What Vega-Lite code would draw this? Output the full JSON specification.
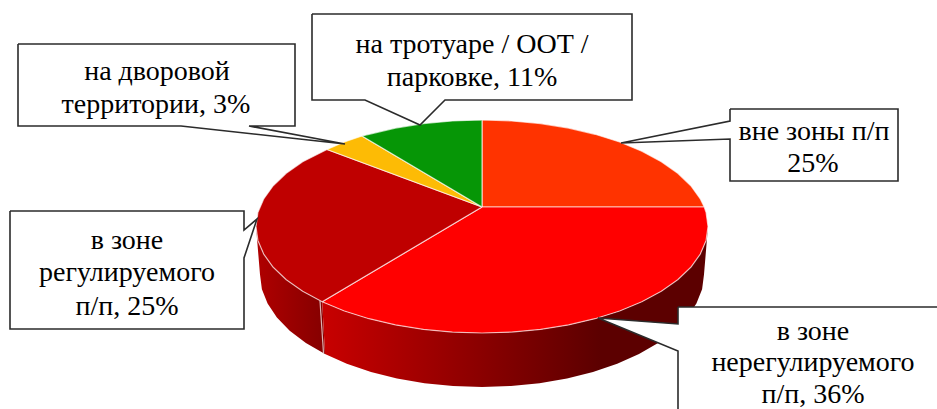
{"$schema":"https://vega.github.io/schema/vega-lite/v6.json","width":937,"height":409,"padding":0,"autosize":{"type":"fit","contains":"padding"},"background":"white","view":{"stroke":null},
"datasets":{
"wallL":[[322.2,301.8],[302.7,291.3],[286.3,279.8],[273.2,267.3],[263.7,254.1],[257.9,240.4],[256,226.5],[260,274.5],[261.9,289.2],[267.6,303.6],[276.9,317.6],[289.7,330.8],[305.9,343],[325,354],[322.2,301.8]],
"wallR":[[322.2,301.8],[344.4,311],[369,318.7],[395.5,324.9],[423.5,329.4],[452.5,332.1],[482,333],[511.5,332.1],[540.5,329.4],[568.5,324.9],[595,318.7],[619.6,311],[641.8,301.8],[661.3,291.3],[677.7,279.8],[690.8,267.3],[700.3,254.1],[706.1,240.4],[708,226.5],[704,274.5],[702.1,289.2],[696.4,303.6],[687.1,317.6],[674.3,330.8],[658.1,343],[639,354],[617.2,363.8],[593,371.9],[567,378.4],[539.5,383.2],[511,386],[482,387],[453,386],[424.5,383.2],[397,378.4],[371,371.9],[346.8,363.8],[325,354],[322.2,301.8]],
"seam":[[320,301],[323.5,353]],
"slices":[
{"s":"вне зоны п/п","p":[[482,207],[482,120],[511.5,120.9],[540.5,123.6],[568.5,128.1],[595,134.3],[619.6,142],[641.8,151.2],[661.3,161.7],[677.7,173.2],[690.8,185.7],[700.3,198.9],[704.2,207],[482,207]]},
{"s":"в зоне нерегулируемого п/п","p":[[482,207],[704.2,207],[706.1,212.6],[708,226.5],[706.1,240.4],[700.3,254.1],[690.8,267.3],[677.7,279.8],[661.3,291.3],[641.8,301.8],[619.6,311],[595,318.7],[568.5,324.9],[540.5,329.4],[511.5,332.1],[482,333],[452.5,332.1],[423.5,329.4],[395.5,324.9],[369,318.7],[344.4,311],[322.2,301.8],[482,207]]},
{"s":"в зоне регулируемого п/п","p":[[482,207],[322.2,301.8],[302.7,291.3],[286.3,279.8],[273.2,267.3],[263.7,254.1],[257.9,240.4],[256,226.5],[257.9,212.6],[263.7,198.9],[273.2,185.7],[286.3,173.2],[302.7,161.7],[327,149.5],[482,207]]},
{"s":"на дворовой территории","p":[[482,207],[327,149.5],[344.4,142],[362,136],[482,207]]},
{"s":"на тротуаре / ООТ / парковке","p":[[482,207],[362,136],[369,134.3],[395.5,128.1],[423.5,123.6],[452.5,120.9],[482,120],[482,207]]}
],
"callouts":[
{"c":"a","p":[[18,44],[295,44],[295,126],[249,126],[345,144],[181,126],[18,126],[18,44]]},
{"c":"b","p":[[312,14],[632,14],[632,100],[445,100],[420,125],[365,100],[312,100],[312,14]]},
{"c":"c","p":[[730,109],[898,109],[898,181],[730,181],[730,139],[621,143],[730,121],[730,109]]},
{"c":"d","p":[[10,211],[244,211],[244,230],[257,219],[244,258],[244,329],[10,329],[10,211]]},
{"c":"e","p":[[678,307],[945,307],[945,420],[678,420],[678,351],[598,318],[678,324],[678,307]]}
],
"labels":[
{"t":"на дворовой","x":157,"y":72},{"t":"территории, 3%","x":156,"y":105},
{"t":"на тротуаре / ООТ /","x":472,"y":45},{"t":"парковке, 11%","x":472,"y":78},
{"t":"вне зоны п/п","x":814,"y":132},{"t":"25%","x":813,"y":164},
{"t":"в зоне","x":127,"y":241},{"t":"регулируемого","x":127,"y":273},{"t":"п/п,  25%","x":127,"y":307},
{"t":"в зоне","x":813,"y":332},{"t":"нерегулируемого","x":813,"y":363},{"t":"п/п, 36%","x":813,"y":395}
]},
"encoding":{"x":{"field":"x","type":"quantitative","axis":null,"scale":{"domain":[0,937],"nice":false,"zero":false}},"y":{"field":"y","type":"quantitative","axis":null,"scale":{"domain":[409,0],"nice":false,"zero":false}}},
"layer":[
{"data":{"name":"wallL"},"transform":[{"calculate":"datum[0]","as":"x"},{"calculate":"datum[1]","as":"y"},{"window":[{"op":"row_number","as":"i"}]}],
"mark":{"type":"line","clip":true,"fill":{"gradient":"linear","x1":0,"x2":1,"y1":0,"y2":0,"stops":[{"offset":0,"color":"#b00000"},{"offset":1,"color":"#850000"}]},"strokeWidth":0},"encoding":{"order":{"field":"i","type":"quantitative"}}},
{"data":{"name":"wallR"},"transform":[{"calculate":"datum[0]","as":"x"},{"calculate":"datum[1]","as":"y"},{"window":[{"op":"row_number","as":"i"}]}],
"mark":{"type":"line","clip":true,"fill":{"gradient":"linear","x1":0,"x2":1,"y1":0,"y2":0,"stops":[{"offset":0,"color":"#c80000"},{"offset":0.4,"color":"#8c0000"},{"offset":0.72,"color":"#5c0000"},{"offset":1,"color":"#5c0000"}]},"strokeWidth":0},"encoding":{"order":{"field":"i","type":"quantitative"}}},
{"data":{"name":"seam"},"transform":[{"calculate":"datum[0]","as":"x"},{"calculate":"datum[1]","as":"y"}],
"mark":{"type":"line","clip":true,"stroke":"#ffffff","strokeOpacity":0.7,"strokeWidth":1.2},"encoding":{}},
{"data":{"name":"slices"},"transform":[{"flatten":["p"]},{"calculate":"datum.p[0]","as":"x"},{"calculate":"datum.p[1]","as":"y"},{"window":[{"op":"row_number","as":"i"}],"groupby":["s"]}],
"mark":{"type":"line","clip":true,"stroke":"#ffffff","strokeOpacity":0.65,"strokeWidth":1.2,"strokeJoin":"round"},
"encoding":{"fill":{"field":"s","type":"nominal","legend":null,"scale":{"domain":["вне зоны п/п","в зоне нерегулируемого п/п","в зоне регулируемого п/п","на дворовой территории","на тротуаре / ООТ / парковке"],"range":["#ff3300","#ff0000","#bf0000","#fdbb05","#069606"]}},"order":{"field":"i","type":"quantitative"}}},
{"data":{"name":"callouts"},"transform":[{"flatten":["p"]},{"calculate":"datum.p[0]","as":"x"},{"calculate":"datum.p[1]","as":"y"},{"window":[{"op":"row_number","as":"i"}],"groupby":["c"]}],
"mark":{"type":"line","clip":true,"fill":"#ffffff","stroke":"#2b2b2b","strokeWidth":1.6,"strokeJoin":"miter"},
"encoding":{"detail":{"field":"c"},"order":{"field":"i","type":"quantitative"}}},
{"data":{"name":"labels"},"mark":{"type":"text","font":"Liberation Serif","fontSize":28,"color":"#000000","baseline":"middle","align":"center"},"encoding":{"text":{"field":"t"}}}
]}
